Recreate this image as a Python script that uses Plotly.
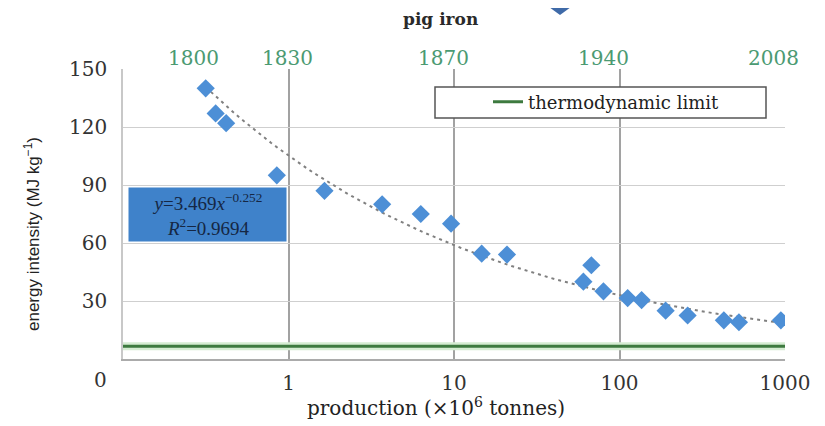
import numpy as np
import plotly.graph_objects as go

# ---- data ----
production = [0.316, 0.363, 0.42, 0.85, 1.65, 3.68, 6.3, 9.6, 14.7, 20.9,
              60.5, 67.6, 80, 112, 136, 190, 258, 427, 527, 944]
energy = [140, 127, 122, 95, 87, 80, 75, 70, 54.5, 54,
          40, 48.5, 35, 31.5, 30.5, 25, 22.5, 20, 19, 20]
thermo_limit = 6.6
x_axis_range = [0.1, 1000]
x_tickvals = [1, 10, 100, 1000]
x_ticktext = ["1", "10", "100", "1000"]
y_tickvals = [30, 60, 90, 120, 150]
year_labels = ["1800", "1830", "1870", "1940", "2008"]
eq_text = "<i>y</i>=3.469<i>x</i><sup>−0.252</sup><br><i>R</i><sup>2</sup>=0.9694"

# ---- layout geometry (page pixels; page body has an 8px margin) ----
OFF = 8
W, H = 825 - OFF, 426 - OFF
PL, PR, PT, PB = 123, 785, 69, 359          # plot box in page pixels
L, T = PL - OFF, PT - OFF
R, B = W - (PR - OFF), H - (PB - OFF)
PW, PH = PR - PL, PB - PT


def px(xp):
    return (xp - PL) / PW


def py(yp):
    return (PB - yp) / PH


# power-law trend fitted to the data (as the spreadsheet trendline does)
lx, ly = np.log10(production), np.log10(energy)
b, a = np.polyfit(lx, ly, 1)
xt = np.logspace(lx.min(), lx.max(), 80)
yt = 10 ** a * xt ** b

fig = go.Figure()
fig.add_trace(go.Scatter(x=x_axis_range, y=[thermo_limit] * 2, mode="lines",
                         line=dict(color="#d5ecd2", width=8), showlegend=False,
                         hoverinfo="skip"))
fig.add_trace(go.Scatter(x=x_axis_range, y=[thermo_limit] * 2, mode="lines",
                         name="thermodynamic limit",
                         line=dict(color="#3d7a3f", width=3)))
fig.add_trace(go.Scatter(x=xt, y=yt, mode="lines", showlegend=False,
                         line=dict(color="#808080", width=2, dash="3px,4px")))
fig.add_trace(go.Scatter(x=production, y=energy, mode="markers", showlegend=False,
                         marker=dict(symbol="diamond", size=14, color="#4d8fd6",
                                     line=dict(width=0))))

serif = "DejaVu Serif"
year_px = [193, 287, 443, 603, 773]
annotations = []
for lab, xp in zip(year_labels, year_px):
    annotations.append(dict(text=lab, xref="paper", yref="paper", x=px(xp), y=py(58),
                            xanchor="center", yanchor="middle", showarrow=False,
                            font=dict(family=serif, size=20, color="#4b9a72")))
annotations += [
    dict(text="<b>pig iron</b>", xref="paper", yref="paper", x=px(440), y=py(19),
         xanchor="center", yanchor="middle", showarrow=False,
         font=dict(family=serif, size=17, color="#2a2a2a")),
    dict(text="production (×10<sup>6</sup> tonnes)", xref="paper", yref="paper",
         x=px(436), y=py(407), xanchor="center", yanchor="middle", showarrow=False,
         font=dict(family=serif, size=20, color="#222")),
    dict(text="energy intensity (MJ kg<sup>−1</sup>)", xref="paper", yref="paper",
         x=px(32), y=py(234), xanchor="center", yanchor="middle", showarrow=False,
         textangle=-90, font=dict(family="Liberation Sans", size=17, color="#222")),
    dict(text="0", xref="paper", yref="paper", x=px(100), y=py(380),
         xanchor="center", yanchor="middle", showarrow=False,
         font=dict(family=serif, size=20, color="#333")),
    dict(text=eq_text, xref="paper", yref="paper", x=px(128), y=py(187),
         xanchor="left", yanchor="top", showarrow=False, align="center",
         width=155, height=51, borderpad=1, bgcolor="#3f82ca",
         font=dict(family="Liberation Serif", size=19, color="#152744")),
]

shapes = [
    dict(type="rect", xref="paper", yref="paper", x0=px(435), x1=px(766),
         y0=py(118), y1=py(87), line=dict(color="#555", width=1.5),
         fillcolor="rgba(255,255,255,1)", layer="above"),
    dict(type="path", xref="paper", yref="paper",
         path=f"M{px(549)},{py(7)} L{px(571)},{py(7)} L{px(560)},{py(15)} Z",
         fillcolor="#3f6aa8", line=dict(width=0)),
]

fig.update_layout(
    width=W, height=H,
    margin=dict(l=L, r=R, t=T, b=B, autoexpand=False),
    paper_bgcolor="white", plot_bgcolor="white",
    showlegend=True,
    legend=dict(x=px(488), y=py(102), xanchor="left", yanchor="middle",
                bgcolor="rgba(0,0,0,0)", borderwidth=0,
                font=dict(family=serif, size=18, color="#222")),
    annotations=annotations, shapes=shapes,
    xaxis=dict(type="log", range=[np.log10(x_axis_range[0]), np.log10(x_axis_range[1])],
               tickvals=x_tickvals, ticktext=x_ticktext, showgrid=True,
               gridcolor="#a2a2a2", gridwidth=1.5, zeroline=False,
               showline=True, linecolor="#ababab", linewidth=1.5,
               ticks="", ticklabelstandoff=5,
               tickfont=dict(family=serif, size=20, color="#333")),
    yaxis=dict(range=[0, 150], tickvals=y_tickvals, showgrid=True,
               gridcolor="#cfcfcf", gridwidth=1.2, zeroline=False,
               showline=True, linecolor="#c8c8c8", linewidth=1.5,
               ticks="", ticklabelstandoff=10,
               tickfont=dict(family=serif, size=20, color="#333")),
)

fig.write_html("out.html")
